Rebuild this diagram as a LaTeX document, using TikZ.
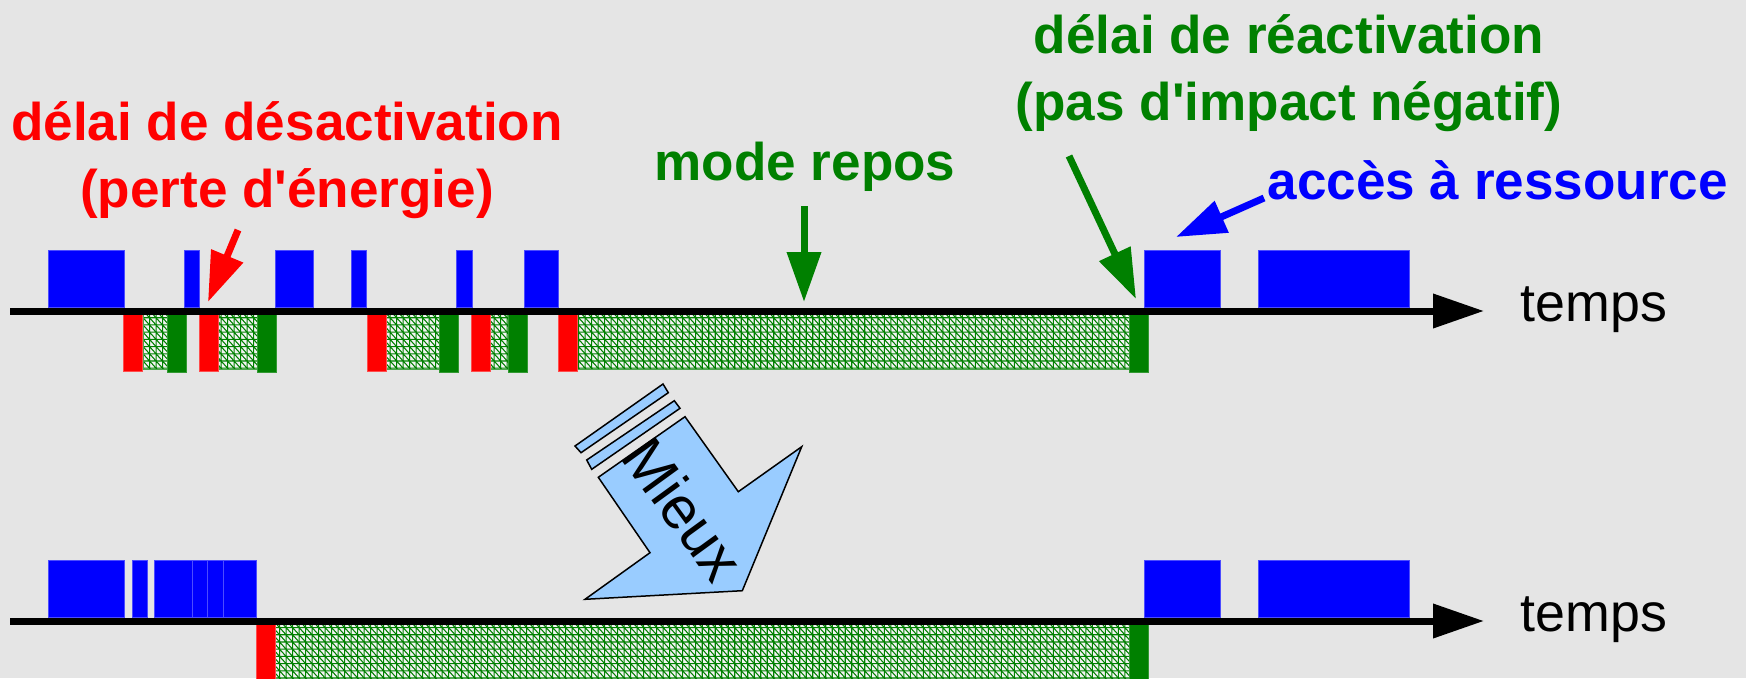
\documentclass[tikz,border=0pt]{standalone}
\usepackage{fontspec}
\usepackage{xcolor}
\usepackage{tikz}
\setmainfont{Liberation Sans}
\usetikzlibrary{arrows.meta,patterns}

\definecolor{Fond}{HTML}{E5E5E5}
\definecolor{Vert}{HTML}{008000}
\definecolor{Ciel}{HTML}{99CCFF}

\pgfdeclarepatternformonly{gridhatch}{\pgfqpoint{-0.2pt}{-0.2pt}}{\pgfqpoint{2.1pt}{2.3pt}}{\pgfqpoint{1.85pt}{2.05pt}}{
  \pgfsetlinewidth{0.3pt}
  \pgfpathmoveto{\pgfqpoint{0pt}{0pt}}\pgfpathlineto{\pgfqpoint{0pt}{2.05pt}}
  \pgfpathmoveto{\pgfqpoint{0pt}{0pt}}\pgfpathlineto{\pgfqpoint{1.85pt}{0pt}}
  \pgfpathmoveto{\pgfqpoint{0pt}{2.05pt}}\pgfpathlineto{\pgfqpoint{1.85pt}{0pt}}
  \pgfusepath{stroke}}

\begin{document}
\begin{tikzpicture}[x=0.1mm, y=-0.1mm,
    txt/.style={font=\fontsize{15.1}{19}\selectfont\bfseries, inner sep=0pt, align=center},
    timelabel/.style={font=\fontsize{15.3}{19}\selectfont, inner sep=0pt, anchor=base west},
    bluebox/.style={fill=blue, draw=blue!70!white, line width=0.1mm},
    redbar/.style={fill=red, draw=red!70!white, line width=0.1mm},
    greenbar/.style={fill=Vert, draw=Vert!80!white, line width=0.1mm},
    hatcharea/.style={preaction={fill=white!55!Fond}, pattern=gridhatch, pattern color=Vert, draw=Vert!70!white, line width=0.1mm},
    timeaxis/.style={line width=0.7mm, -{Triangle[length=5.1mm,width=3.3mm]}},
    pointer/.style={line width=0.7mm, -{Triangle[length=5mm,width=3.3mm]}}]
    \useasboundingbox (0,0) rectangle (1746,678);
    \fill [Fond] (0,0) rectangle (1746,678);
    \clip (0,0) rectangle (1746,678);

    \foreach \a/\b in {48/124, 184/199, 275/313, 351/366, 456/472, 524/558, 1144/1220, 1258/1409}
        \draw [bluebox] (\a,250) rectangle (\b,307);
    \foreach \a/\b in {143/167, 218/257, 386/439, 489/508, 577/1129}
        \draw [hatcharea] (\a,314) rectangle (\b,369);
    \foreach \a in {123, 199, 367, 471, 558}
        \draw [redbar] (\a,314) rectangle ++(19,57);
    \foreach \a in {167, 257, 439, 508, 1129}
        \draw [greenbar] (\a,314) rectangle ++(19,58);

    \coordinate (TopStart) at (10,311);
    \coordinate (TopEnd) at (1484,311);
    \draw [timeaxis] (TopStart) -- (TopEnd);
    \node (TopTemps) at (1520,321) [timelabel] {temps};

    \foreach \a/\b in {48/124, 132/147, 154/192, 192/207, 207/223, 223/256, 1144/1220, 1258/1409}
        \draw [bluebox] (\a,560) rectangle (\b,617);
    \draw [hatcharea] (275,624) rectangle (1129,700);
    \draw [redbar] (256,624) rectangle ++(19,76);
    \draw [greenbar] (1129,624) rectangle ++(19,76);

    \coordinate (LowStart) at (10,621);
    \coordinate (LowEnd) at (1484,621);
    \draw [timeaxis] (LowStart) -- (LowEnd);
    \node (LowTemps) at (1520,631) [timelabel] {temps};

    \node (Desact) at (287,207) [txt, text=red, anchor=base] {délai de désactivation\\(perte d\textquotesingle énergie)};
    \node (Repos) at (805,181) [txt, text=Vert, anchor=base] {mode repos};
    \node (React) at (1289,120) [txt, text=Vert, anchor=base] {délai de réactivation\\(pas d\textquotesingle impact négatif)};
    \node (Acces) at (1267,200) [txt, text=blue, anchor=base west] {accès à ressource};

    \coordinate (DesactFrom) at (238,230);
    \coordinate (DesactTip) at (208,302);
    \coordinate (ReposFrom) at (804,206);
    \coordinate (ReposTip) at (804,302);
    \coordinate (ReactFrom) at (1069,156);
    \coordinate (ReactTip) at (1136,299);
    \coordinate (AccesFrom) at (1264,198);
    \coordinate (AccesTip) at (1176,237);
    \draw [pointer, red] (DesactFrom) -- (DesactTip);
    \draw [pointer, Vert] (ReposFrom) -- (ReposTip);
    \draw [pointer, Vert] (ReactFrom) -- (ReactTip);
    \draw [pointer, blue] (AccesFrom) -- (AccesTip);

    \draw [fill=Ciel, line width=0.15mm] (575,446) -- (663,384) -- (668.3,392.7) -- (581,452.7) -- cycle;
    \draw [fill=Ciel, line width=0.15mm] (586.7,460) -- (674.3,400.7) -- (680,408.3) -- (591.7,469.3) -- cycle;
    \draw [fill=Ciel, line width=0.15mm] (598.3,477.3) -- (685,416.7) -- (738.3,491.7) -- (801.7,446.7)
        -- (742.3,590.7) -- (585,599.3) -- (650,552.7) -- cycle;
    \node (Mieux) at (684,509) [font=\fontsize{17}{20}\selectfont, inner sep=0pt, rotate=-54] {Mieux};
\end{tikzpicture}
\end{document}
